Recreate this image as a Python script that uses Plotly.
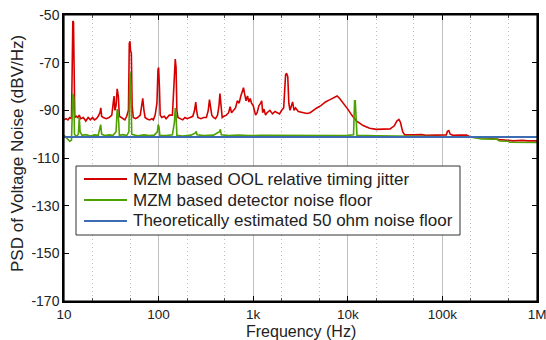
import plotly.graph_objects as go

# ---- data ----
red_f = [10, 10.5, 11, 11.5, 12.0, 12.2, 12.4, 12.6, 12.8, 13.0, 13.5, 14, 14.5, 15, 16, 17, 18, 19, 20, 21,
         22, 23, 24, 24.5, 25, 26, 28, 30, 32, 33, 33.8, 34.5, 35.5, 36.5, 37.5, 38.5, 40, 42, 44, 46,
         48, 49, 49.8, 50.5, 51.5, 52.5, 54, 57, 60, 64, 66, 68, 70, 72, 75, 80, 85, 88, 92, 96,
         98.5, 100, 102, 104, 108, 115, 120, 130, 140, 145, 148, 150, 153, 156, 160, 170, 180, 190, 200, 215,
         230, 240, 247, 252, 260, 280, 300, 320, 335, 345, 355, 365, 380, 400, 420, 435, 445, 455, 470, 490,
         520, 550, 570, 590, 620, 650, 680, 710, 740, 770, 790, 810, 840, 870, 900, 930, 960, 1000, 1030, 1060,
         1100, 1150, 1200, 1230, 1260, 1300, 1350, 1400, 1500, 1600, 1700, 1800, 1900, 2000, 2100, 2200, 2260, 2320, 2380, 2450,
         2550, 2610, 2700, 2800, 3000, 3300, 3700, 4000, 4300, 4700, 5200, 5800, 6500, 7200, 7700, 8200, 9000, 10000, 11000, 12400,
         14700, 17000, 20000, 24000, 28000, 31000, 33000, 34700, 36000, 38000, 40000, 50000, 60000, 67000, 80000, 100000, 110000, 113000, 117000, 121000,
         130000, 150000, 180000, 200000, 300000, 400000, 500000, 560000, 700000, 800000, 1000000]
red_db = [-94, -93.5, -94, -93, -93.5, -60, -52.5, -53, -75, -93, -92.5, -93, -92, -93.5, -93, -94.5, -93, -94, -93, -94,
          -93.5, -92.5, -91, -89, -92.5, -93, -93.5, -93, -92, -87, -84, -90, -88, -81, -84, -92.5, -93, -93.5, -94, -92.5,
          -90, -62, -61, -65, -66, -88, -93, -93.5, -93, -92, -88, -85, -90, -93, -93.5, -94, -93.5, -94, -92, -87,
          -73, -72, -80, -92, -93, -92.5, -93.5, -92, -92, -80, -70, -68.5, -72, -90, -93, -93.5, -94, -93, -93.5, -93,
          -92.5, -90, -86.5, -90, -93, -93.5, -93, -93, -90, -85.5, -88, -92, -93, -93.5, -92, -88, -83, -88, -93, -92.5,
          -92, -91, -88.5, -91, -90, -89, -86, -87, -84, -82, -80.5, -83, -86, -84, -86.5, -85, -87, -88, -90, -92,
          -91, -88, -87, -86, -91, -89.5, -92, -91, -90, -91.5, -90.5, -91, -91.5, -90, -89, -75, -74.5, -76, -87, -90,
          -88, -86.5, -90, -89, -90.5, -91, -91.3, -91, -90, -89, -88, -86.5, -85.5, -84.5, -84, -85, -87, -89.5, -92, -94.5,
          -96.5, -97.5, -98, -98, -97.8, -96.5, -94.5, -93.8, -95, -99, -100.3, -100.3, -100.2, -100.5, -100.5, -100.5, -100.3, -98.8, -98.5, -100,
          -100.5, -100.4, -100.4, -101.3, -101.6, -102.3, -102.5, -102.8, -102.6, -102.8, -102.8]

green_f = [10, 10.5, 11, 11.5, 12.0, 12.2, 12.4, 12.7, 12.9, 13.5, 14.2, 14.5, 14.8, 15.5, 17, 19, 21, 23, 24, 24.4,
           25, 27, 30, 33, 35.5, 36.5, 37.5, 38.5, 42, 46, 48.5, 49.3, 50, 51, 52, 56, 60, 70, 80, 90,
           97, 99, 101, 103, 120, 140, 147, 150, 153, 156, 180, 220, 245, 250, 255, 300, 380, 440, 450, 460,
           550, 700, 900, 1200, 2000, 4000, 7000, 10000, 11500, 11800, 12000, 12200, 12500, 20000, 50000, 100000, 200000, 260000, 380000, 400000,
           500000, 515000, 700000, 1000000]
green_db = [-100.5, -101.5, -102.5, -103, -102.5, -90, -83, -85, -100, -101, -100, -93, -99, -100.5, -100.2, -100.8, -100.3, -100.5, -98, -96,
            -100, -100.6, -100.3, -100.5, -99, -89.5, -92, -100.5, -100.2, -100.6, -99, -74, -74, -80, -100, -100.4, -100.7, -100.3, -100.6, -100.4,
            -99, -96, -97, -100.5, -100.6, -100.3, -95, -89, -92, -100.5, -100.8, -100.4, -99.5, -98.8, -100.3, -100.6, -100.4, -99, -98, -100.3,
            -100.6, -100.4, -100.6, -100.5, -100.6, -100.5, -100.6, -100.5, -100.3, -86, -86, -92, -100.5, -100.7, -100.8, -101, -101.2, -102, -102.1, -102.9,
            -103, -103.4, -103.4, -103.5]

blue_f = [10, 1000000]
blue_db = [-101.2, -101.2]

names = ["MZM based OOL relative timing jitter",
         "MZM based detector noise floor",
         "Theoretically estimated 50 ohm noise floor"]
x_tickvals = [10, 100, 1000, 10000, 100000, 1000000]
x_ticktext = ["10", "100", "1k", "10k", "100k", "1M"]
y_tickvals = [-50, -70, -90, -110, -130, -150, -170]
y_ticktext = ["-50", "-70", "-90", "-110", "-130", "-150", "-170"]

RED, GREEN, BLUE = "#d40000", "#4da000", "#3d6cb3"
COLORS = [RED, GREEN, BLUE]
FONT = "Arial, Liberation Sans, Helvetica, sans-serif"
TXT = "#222222"

fig = go.Figure()
fig.add_trace(go.Scatter(x=red_f, y=red_db, mode="lines", name=names[0],
                         line=dict(color=RED, width=1.6), showlegend=False))
fig.add_trace(go.Scatter(x=green_f, y=green_db, mode="lines", name=names[1],
                         line=dict(color=GREEN, width=1.6), showlegend=False))
fig.add_trace(go.Scatter(x=blue_f, y=blue_db, mode="lines", name=names[2],
                         line=dict(color=BLUE, width=2), showlegend=False))

fig.update_layout(
    width=546, height=340,
    margin=dict(l=64, r=9, t=15, b=39),
    paper_bgcolor="white", plot_bgcolor="white",
    font=dict(family=FONT, size=14, color=TXT),
    showlegend=False,
)
fig.update_xaxes(
    type="log", range=[1, 6], tickvals=x_tickvals, ticktext=x_ticktext,
    tickfont=dict(size=13.5),
    showline=True, linecolor="black", linewidth=1.5, mirror="allticks",
    ticks="inside", ticklen=5, tickcolor="black",
    showgrid=True, gridcolor="#c0c0c0", gridwidth=1.3,
    minor=dict(showgrid=True, gridcolor="#bdbdbd", griddash="1px,3px", gridwidth=1,
               ticks="inside", ticklen=3, tickcolor="#555"),
    ticklabelstandoff=0, ticklabeloverflow="allow", zeroline=False, automargin=False,
)
fig.update_yaxes(
    range=[-170, -50], tickvals=y_tickvals, ticktext=y_ticktext,
    showline=True, linecolor="black", linewidth=1.5, mirror="allticks",
    ticks="inside", ticklen=5, tickcolor="black",
    showgrid=False, zeroline=False, automargin=False,
)

# frame around the plot area
fig.add_shape(type="rect", xref="paper", yref="paper", x0=0, x1=1, y0=0, y1=1,
              line=dict(color="black", width=1.2), layer="above")

# custom legend box (pixel-matched)
W, H, L, T = 473.0, 286.0, 64.0, 15.0
def px(x):
    return (x - L) / W
def py(y):
    return (T + H - y) / H

fig.add_shape(type="rect", xref="paper", yref="paper",
              x0=px(76), x1=px(460), y0=py(235), y1=py(166),
              line=dict(color="#333333", width=1), fillcolor="white", layer="above")
rows = [179, 200, 221]
for name, col, ry in zip(names, COLORS, rows):
    fig.add_shape(type="line", xref="paper", yref="paper",
                  x0=px(84), x1=px(127), y0=py(ry), y1=py(ry),
                  line=dict(color=col, width=2), layer="above")
    fig.add_annotation(text=name, xref="paper", yref="paper", x=px(131), y=py(ry),
                       xanchor="left", yanchor="middle", showarrow=False,
                       font=dict(size=17, family=FONT, color=TXT))

fig.add_annotation(text="Frequency (Hz)", xref="paper", yref="paper",
                   x=0.5, y=py(331), xanchor="center", yanchor="middle", showarrow=False,
                   font=dict(size=16, family=FONT, color=TXT))
fig.add_annotation(text="PSD of Voltage Noise (dBV/Hz)", xref="paper", yref="paper",
                   x=px(17), y=py(154), xanchor="center", yanchor="middle",
                   textangle=-90, showarrow=False,
                   font=dict(size=17, family=FONT, color=TXT))
fig.write_html("out.html", config={"displayModeBar": False},
               post_script="document.body.style.margin='0';document.body.style.overflow='hidden';")
